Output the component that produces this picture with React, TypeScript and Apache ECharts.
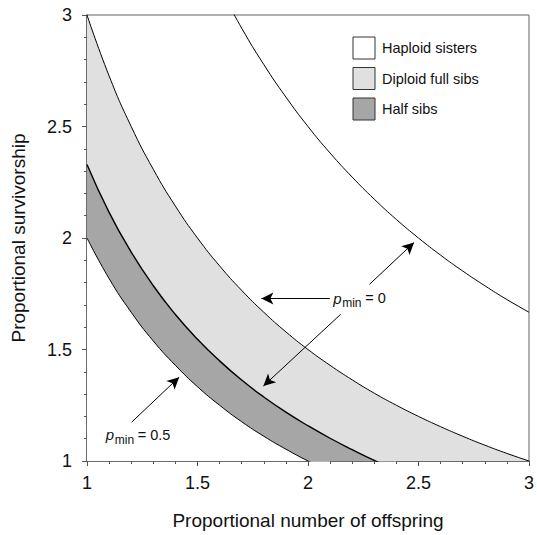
import React, { useEffect, useRef } from "react";
import * as echarts from "echarts";

const FONT = "'Liberation Sans', Arial, Helvetica, sans-serif";

// x positions (proportional number of offspring)
const xs = [1.0, 1.1, 1.2, 1.3, 1.4, 1.5, 1.6, 1.7, 1.8, 1.9, 2.0, 2.1, 2.2, 2.3, 2.4, 2.5, 2.6, 2.7, 2.8, 2.9, 3.0];
// upper edge of diploid full sibs band (p_min = 0)
const diploidUpper = [3.0, 2.727, 2.5, 2.308, 2.143, 2.0, 1.875, 1.765, 1.667, 1.579, 1.5, 1.429, 1.364, 1.304, 1.25, 1.2, 1.154, 1.111, 1.071, 1.034, 1.0];
// upper edge of half sibs band (p_min = 0)
const halfUpper = [2.33, 2.115, 1.937, 1.786, 1.657, 1.546, 1.449, 1.363, 1.287, 1.219, 1.158, 1.102, 1.051, 1.003, 0.96];
// lower edge (p_min = 0.5)
const halfLower = [2.0, 1.818, 1.667, 1.538, 1.429, 1.333, 1.25, 1.176, 1.111, 1.053, 1.0, 0.952];
// haploid sisters curve
const haploidX = [1.6, 1.7, 1.8, 1.9, 2.0, 2.1, 2.2, 2.3, 2.4, 2.5, 2.6, 2.7, 2.8, 2.9, 3.0];
const haploidY = [3.125, 2.941, 2.778, 2.632, 2.5, 2.381, 2.273, 2.174, 2.083, 2.0, 1.923, 1.852, 1.786, 1.724, 1.667];

const xTicks = [1, 1.5, 2, 2.5, 3];
const legendNames = ["Haploid sisters", "Diploid full sibs", "Half sibs"];
const legendColors = ["#ffffff", "#e0e0e0", "#a6a6a6"];

// arrows: [tailX, tailY, tipX, tipY]
const arrows = [
  [2.099, 1.729, 1.789, 1.729],
  [2.148, 1.658, 1.798, 1.336],
  [2.278, 1.792, 2.48, 1.98],
  [1.202, 1.174, 1.417, 1.376],
];
// annotation labels: [x, y, value text]
const notes: [number, number, string][] = [
  [2.114, 1.729, "= 0"],
  [1.085, 1.117, "= 0.5"],
];

const pair = (x: number[], y: number[]) => y.map((v, i) => [x[i], v]);

export default function App() {
  const ref = useRef<HTMLDivElement>(null);
  useEffect(() => {
    const chart = echarts.init(ref.current!, null, { renderer: "svg" });
    const axisColor = "#555";
    const lineSeries = (name: string, data: number[][], extra: any) => ({
      name, type: "line", data, smooth: 0.5, showSymbol: false, symbol: "none", ...extra,
    });
    const option: any = {
      animation: false,
      backgroundColor: "#ffffff",
      grid: {
        left: 87, right: 4, top: 15, bottom: 73,
        show: true, borderColor: "#666", borderWidth: 1, backgroundColor: "#fff",
      },
      xAxis: {
        type: "value", min: 1, max: 3, interval: 0.5,
        name: "Proportional number of offspring", nameLocation: "middle", nameGap: 50,
        nameTextStyle: { fontFamily: FONT, fontSize: 19, color: "#111" },
        axisLine: { lineStyle: { color: axisColor, width: 1.5 } },
        axisTick: { show: true, inside: false, length: 5, lineStyle: { color: axisColor } },
        minorTick: { show: true, splitNumber: 5, length: 3, lineStyle: { color: axisColor } },
        splitLine: { show: false },
        axisLabel: {
          fontFamily: FONT, fontSize: 18, color: "#111", margin: 13,
          formatter: (v: number) => (xTicks.includes(v) ? String(v) : ""),
        },
      },
      yAxis: {
        type: "value", min: 1, max: 3, interval: 0.5,
        name: "Proportional survivorship", nameLocation: "middle", nameGap: 59,
        nameTextStyle: { fontFamily: FONT, fontSize: 19, color: "#111" },
        axisLine: { lineStyle: { color: axisColor, width: 1.5 } },
        axisTick: { show: true, inside: false, length: 5, lineStyle: { color: axisColor } },
        minorTick: { show: true, splitNumber: 5, length: 3, lineStyle: { color: axisColor } },
        splitLine: { show: false },
        axisLabel: { fontFamily: FONT, fontSize: 18, color: "#111", margin: 15 },
      },
      series: [
        lineSeries("Diploid full sibs", pair(xs, diploidUpper), {
          lineStyle: { color: "#000", width: 1 }, areaStyle: { color: "#e0e0e0", opacity: 1 }, z: 2,
        }),
        lineSeries("Half sibs", pair(xs, halfUpper), {
          lineStyle: { color: "#000", width: 1.4 }, areaStyle: { color: "#a6a6a6", opacity: 1 }, z: 3,
        }),
        lineSeries("lower", pair(xs, halfLower), {
          lineStyle: { color: "#000", width: 1 }, areaStyle: { color: "#ffffff", opacity: 1 }, z: 4,
        }),
        lineSeries("Haploid sisters", pair(haploidX, haploidY), {
          lineStyle: { color: "#000", width: 1 }, z: 5,
          markLine: {
            silent: true, symbol: ["none", "arrow"], symbolSize: [9, 12],
            lineStyle: { color: "#000", width: 1, type: "solid" },
            label: { show: false },
            data: arrows.map((a) => [{ coord: [a[0], a[1]] }, { coord: [a[2], a[3]] }]),
          },
        }),
      ],
    };
    chart.setOption(option);

    const graphic: any[] = [];
    // legend
    legendNames.forEach((n, i) => {
      const top = 37 + i * 30.5;
      graphic.push({
        type: "rect", shape: { x: 353, y: top, width: 22, height: 22 },
        style: { fill: legendColors[i], stroke: "#333", lineWidth: 1 }, z: 100,
      });
      graphic.push({
        type: "text", x: 382, y: top + 11,
        style: { text: n, fontFamily: FONT, fontSize: 14.5, fill: "#111", verticalAlign: "middle" }, z: 100,
      });
    });
    // p_min annotations
    notes.forEach(([x, y, t]) => {
      const p = chart.convertToPixel({ gridIndex: 0 }, [x, y]) as number[];
      graphic.push({
        type: "text", x: p[0], y: p[1],
        style: { text: "p", fontFamily: FONT, fontSize: 15, fontStyle: "italic", fill: "#111", verticalAlign: "middle" }, z: 100,
      });
      graphic.push({
        type: "text", x: p[0] + 9, y: p[1] + 5,
        style: { text: "min", fontFamily: FONT, fontSize: 12, fill: "#111", verticalAlign: "middle" }, z: 100,
      });
      graphic.push({
        type: "text", x: p[0] + 32, y: p[1],
        style: { text: t, fontFamily: FONT, fontSize: 14.5, fill: "#111", verticalAlign: "middle" }, z: 100,
      });
    });
    chart.setOption({ graphic });

    return () => chart.dispose();
  }, []);
  return <div ref={ref} style={{ position: "absolute", left: 0, top: 0, width: 537, height: 535 }} />;
}
